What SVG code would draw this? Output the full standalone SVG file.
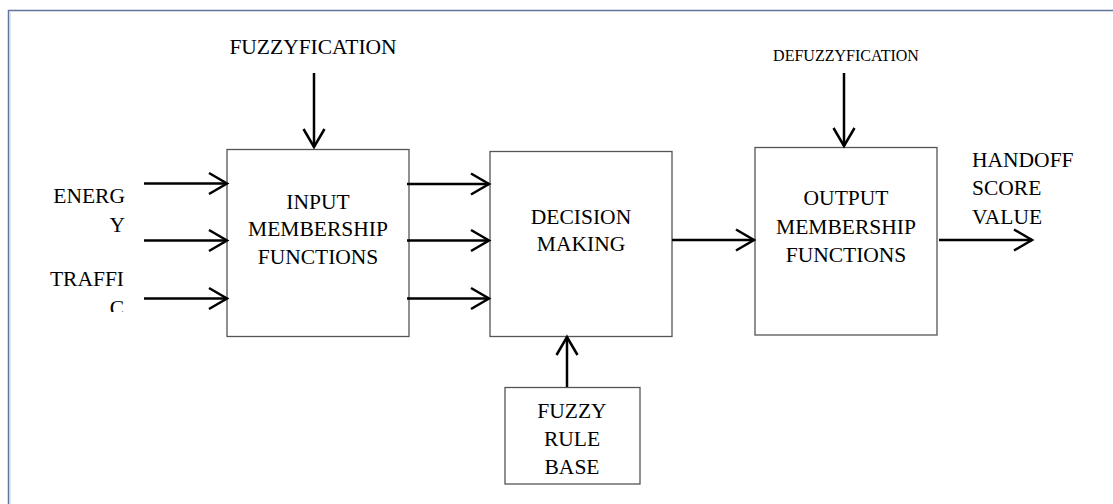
<svg xmlns="http://www.w3.org/2000/svg" width="1113" height="504" viewBox="0 0 1113 504">
<style>
.t{font-family:'Liberation Serif','Times New Roman','DejaVu Serif',serif;font-size:21.5px;fill:#000}
.c{text-anchor:middle}
.r{text-anchor:end}
.box{fill:#fff;stroke:#555;stroke-width:1.3}
.arr{stroke:#000;stroke-width:2.5;fill:none;marker-end:url(#ah)}
</style>
<defs>
<marker id="ah" markerUnits="userSpaceOnUse" markerWidth="30" markerHeight="30" refX="20" refY="12" orient="auto" viewBox="0 0 30 30" overflow="visible">
<path d="M2,1.5 L20,12 L2,22.5" fill="none" stroke="#000" stroke-width="2.5"/>
</marker>
<clipPath id="clipC"><rect x="0" y="0" width="1113" height="312"/></clipPath>
</defs>
<rect width="1113" height="504" fill="#fff"/>
<rect x="8.5" y="10.5" width="1120" height="510" fill="none" stroke="#60759a" stroke-width="1.5"/>
<line x1="10" y1="12" x2="10" y2="504" stroke="#c8d0e0" stroke-width="1"/>

<g id="labels" font-family="Liberation Serif, serif">
<text class="t c" x="313" y="54">FUZZYFICATION</text>
<text class="t c" x="846" y="60.5" style="font-size:16px">DEFUZZYFICATION</text>
<text class="t r" x="125" y="203">ENERG</text>
<text class="t r" x="125" y="232">Y</text>
<text class="t r" x="124" y="286">TRAFFI</text>
<text class="t r" x="124" y="315" clip-path="url(#clipC)">C</text>
<text class="t" x="972" y="167">HANDOFF</text>
<text class="t" x="972" y="195">SCORE</text>
<text class="t" x="972" y="223.5">VALUE</text>
</g>

<g id="input-mf" font-family="Liberation Serif, serif">
<rect class="box" x="227" y="149.5" width="182" height="187"/>
<text class="t c" x="318" y="208.5">INPUT</text>
<text class="t c" x="318" y="236">MEMBERSHIP</text>
<text class="t c" x="318" y="263.5">FUNCTIONS</text>
</g>

<g id="decision" font-family="Liberation Serif, serif">
<rect class="box" x="490" y="151.5" width="182" height="185"/>
<text class="t c" x="581" y="223.5">DECISION</text>
<text class="t c" x="581" y="251">MAKING</text>
</g>

<g id="output-mf" font-family="Liberation Serif, serif">
<rect class="box" x="755" y="147.5" width="182" height="187.5"/>
<text class="t c" x="846" y="205">OUTPUT</text>
<text class="t c" x="846" y="233.5">MEMBERSHIP</text>
<text class="t c" x="846" y="262">FUNCTIONS</text>
</g>

<g id="rule-base" font-family="Liberation Serif, serif">
<rect class="box" x="505" y="387.5" width="135" height="96.5"/>
<text class="t c" x="572" y="417.5">FUZZY</text>
<text class="t c" x="572" y="446">RULE</text>
<text class="t c" x="572" y="473.5">BASE</text>
</g>

<g id="connectors">
<line class="arr" x1="314" y1="73" x2="314" y2="147"/>
<line class="arr" x1="844" y1="73" x2="844" y2="146"/>
<line class="arr" x1="144" y1="183.5" x2="227" y2="183.5"/>
<line class="arr" x1="144" y1="240.5" x2="227" y2="240.5"/>
<line class="arr" x1="144" y1="298.5" x2="227" y2="298.5"/>
<line class="arr" x1="407" y1="184" x2="489" y2="184"/>
<line class="arr" x1="407" y1="240.5" x2="489" y2="240.5"/>
<line class="arr" x1="407" y1="298.5" x2="489" y2="298.5"/>
<line class="arr" x1="672" y1="240" x2="754" y2="240"/>
<line class="arr" x1="939" y1="240" x2="1032" y2="240"/>
<line class="arr" x1="567" y1="387" x2="567" y2="337"/>
</g>
</svg>
